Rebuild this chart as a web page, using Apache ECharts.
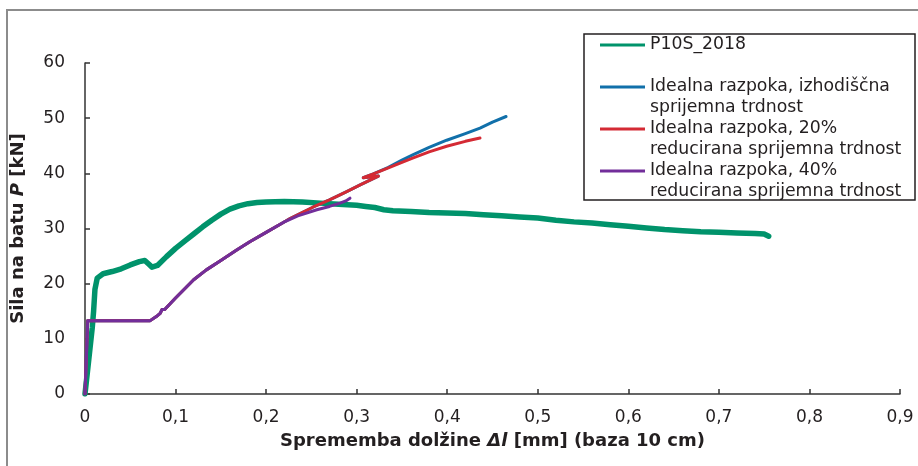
<!DOCTYPE html>
<html>
<head>
<meta charset="utf-8">
<script src="https://cdn.jsdelivr.net/npm/echarts@6/dist/echarts.min.js"></script>
<style>
  html, body { margin: 0; padding: 0; background: #ffffff; }
  #chart { width: 918px; height: 466px; }
</style>
</head>
<body>
<div id="chart"></div>
<script>
// Load P [kN] versus elongation Δl [mm] (10 cm gauge length)
var seriesNames = [
  'P10S_2018',
  'Idealna razpoka, izhodiščna sprijemna trdnost',
  'Idealna razpoka, 20% reducirana sprijemna trdnost',
  'Idealna razpoka, 40% reducirana sprijemna trdnost'
];
var legendLines = [
  ['P10S_2018', ' '],
  ['Idealna razpoka, izhodiščna', 'sprijemna trdnost'],
  ['Idealna razpoka, 20%', 'reducirana sprijemna trdnost'],
  ['Idealna razpoka, 40%', 'reducirana sprijemna trdnost']
];
var seriesColors = ['#00936b', '#1170aa', '#d42a34', '#722e9a'];

var xTickLabels = ['0', '0,1', '0,2', '0,3', '0,4', '0,5', '0,6', '0,7', '0,8', '0,9'];
var yTickLabels = ['0', '10', '20', '30', '40', '50', '60'];

// measured curve
var testP10S = [
  [0, 0], [0.004, 6], [0.008, 12], [0.0095, 15], [0.011, 19], [0.0135, 21],
  [0.02, 21.8], [0.03, 22.2], [0.04, 22.7], [0.05, 23.4], [0.06, 24], [0.066, 24.2],
  [0.07, 23.6], [0.074, 23], [0.08, 23.3], [0.09, 24.9], [0.1, 26.4], [0.11, 27.7],
  [0.12, 29], [0.13, 30.3], [0.14, 31.5], [0.15, 32.6], [0.16, 33.5], [0.17, 34.1],
  [0.18, 34.5], [0.19, 34.7], [0.2, 34.8], [0.22, 34.9], [0.24, 34.8], [0.26, 34.6],
  [0.28, 34.4], [0.3, 34.2], [0.31, 34], [0.32, 33.8], [0.33, 33.4], [0.34, 33.2],
  [0.36, 33.1], [0.38, 32.9], [0.4, 32.8], [0.42, 32.7], [0.44, 32.5], [0.46, 32.3],
  [0.48, 32.1], [0.5, 31.9], [0.52, 31.5], [0.54, 31.2], [0.56, 31], [0.58, 30.7],
  [0.6, 30.4], [0.62, 30.1], [0.64, 29.8], [0.66, 29.6], [0.68, 29.4], [0.7, 29.3],
  [0.72, 29.2], [0.74, 29.1], [0.75, 29], [0.755, 28.6]
];

// model: original bond strength
var crackFull = [
  [0, 0], [0.003, 13.3], [0.072, 13.3], [0.08, 14.2], [0.083, 14.6], [0.085, 15.3],
  [0.088, 15.3], [0.1, 17.4], [0.12, 20.7], [0.134, 22.5], [0.15, 24.2], [0.1675, 26.1],
  [0.182, 27.6], [0.2, 29.3], [0.219, 31.1], [0.2264, 31.8], [0.2521, 33.9], [0.27, 35.2],
  [0.289, 36.7], [0.305, 38.0], [0.324, 39.5], [0.3073, 39.2], [0.3184, 39.9],
  [0.335, 41.1], [0.35, 42.4], [0.3625, 43.4], [0.38, 44.7], [0.3994, 46.0],
  [0.42, 47.2], [0.4362, 48.2], [0.45, 49.3], [0.465, 50.3]
];

// model: bond strength reduced by 20 %
var crack20 = [
  [0, 0], [0.003, 13.3], [0.072, 13.3], [0.08, 14.2], [0.083, 14.6], [0.085, 15.3],
  [0.088, 15.3], [0.1, 17.4], [0.12, 20.7], [0.134, 22.5], [0.15, 24.2], [0.1675, 26.1],
  [0.182, 27.6], [0.2, 29.3], [0.219, 31.1], [0.2264, 31.8], [0.2521, 33.9], [0.27, 35.2],
  [0.289, 36.7], [0.305, 38.0], [0.324, 39.5], [0.3073, 39.2], [0.3184, 39.9],
  [0.335, 41.0], [0.35, 42.0], [0.3625, 42.8], [0.38, 43.9], [0.3994, 44.9],
  [0.42, 45.8], [0.4362, 46.4]
];

// model: bond strength reduced by 40 %
var crack40 = [
  [0, 0], [0.003, 13.3], [0.072, 13.3], [0.08, 14.2], [0.083, 14.6], [0.085, 15.3],
  [0.088, 15.3], [0.1, 17.4], [0.12, 20.7], [0.134, 22.5], [0.15, 24.2], [0.1675, 26.1],
  [0.182, 27.6], [0.2, 29.3], [0.219, 31.1], [0.235, 32.3], [0.256, 33.4], [0.27, 34],
  [0.2816, 34.6], [0.288, 35], [0.2926, 35.5]
];

var seriesData = [testP10S, crackFull, crack20, crack40];
var seriesWidths = [5.5, 3, 3, 3];

var FONT = 'DejaVu Sans';
var TEXT = '#231f20';
var chart = echarts.init(document.getElementById('chart'), null, { renderer: 'canvas' });

var axisLineStyle = { color: '#333333', width: 1.5 };

chart.setOption({
  animation: false,
  backgroundColor: '#ffffff',
  textStyle: { fontFamily: FONT },
  grid: { left: 85, right: 18, top: 63, bottom: 72, containLabel: false },
  legend: {
    orient: 'vertical',
    left: 600,
    top: 13.5,
    padding: 0,
    itemGap: -21,
    itemWidth: 45,
    itemHeight: 21,
    selectedMode: false,
    // thin horizontal bar as the legend key
    icon: 'path://M0,0L45,0L45,3L0,3Z',
    data: seriesNames,
    formatter: function (name) {
      var i = seriesNames.indexOf(name);
      // leading empty line keeps the first text line level with the key
      return '\n' + legendLines[i].join('\n');
    },
    textStyle: {
      fontFamily: FONT,
      fontSize: 17.3,
      color: TEXT,
      lineHeight: 21
    }
  },
  xAxis: {
    type: 'value',
    min: 0,
    max: 0.9,
    interval: 0.1,
    name: 'Sprememba dolžine {i|Δl} [mm] (baza 10 cm)',
    nameLocation: 'middle',
    nameGap: 38,
    nameTextStyle: {
      fontFamily: FONT, fontSize: 18, fontWeight: 'bold', color: TEXT,
      rich: { i: { fontFamily: FONT, fontSize: 18, fontWeight: 'bold', fontStyle: 'italic', color: TEXT } }
    },
    axisLine: { show: true, onZero: false, lineStyle: axisLineStyle },
    axisTick: { show: true, inside: true, length: 5, lineStyle: axisLineStyle },
    splitLine: { show: false },
    axisLabel: {
      margin: 15,
      fontFamily: FONT,
      fontSize: 17,
      color: TEXT,
      formatter: function (v) { return xTickLabels[Math.round(v * 10)]; }
    }
  },
  yAxis: {
    type: 'value',
    min: 0,
    max: 60,
    interval: 10,
    name: 'Sila na batu {i|P} [kN]',
    nameLocation: 'middle',
    nameGap: 58,
    nameTextStyle: {
      fontFamily: FONT, fontSize: 18, fontWeight: 'bold', color: TEXT,
      rich: { i: { fontFamily: FONT, fontSize: 18, fontWeight: 'bold', fontStyle: 'italic', color: TEXT } }
    },
    axisLine: { show: true, lineStyle: axisLineStyle },
    axisTick: { show: true, inside: true, length: 5, lineStyle: axisLineStyle },
    splitLine: { show: false },
    axisLabel: {
      margin: 20,
      fontFamily: FONT,
      fontSize: 17,
      color: TEXT,
      formatter: function (v) { return yTickLabels[Math.round(v / 10)]; }
    }
  },
  graphic: [
    {
      type: 'rect',
      silent: true,
      shape: { x: 7, y: 10, width: 930, height: 480 },
      style: { fill: 'none', stroke: '#8c8c8c', lineWidth: 2 }
    },
    {
      type: 'rect',
      silent: true,
      shape: { x: 584, y: 34, width: 331, height: 166 },
      style: { fill: 'none', stroke: '#231f20', lineWidth: 1.5 }
    }
  ],
  series: seriesNames.map(function (name, i) {
    return {
      name: name,
      type: 'line',
      data: seriesData[i],
      showSymbol: false,
      symbol: 'none',
      smooth: false,
      clip: true,
      color: seriesColors[i],
      lineStyle: { color: seriesColors[i], width: seriesWidths[i], cap: 'round', join: 'round' },
      z: 2 + i
    };
  })
});
</script>
</body>
</html>
